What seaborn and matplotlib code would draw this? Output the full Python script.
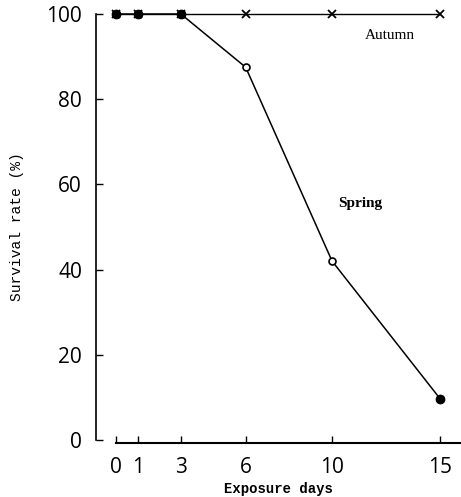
import matplotlib
matplotlib.use("Agg")
import matplotlib.pyplot as plt
import seaborn as sns
import pandas as pd

days = [0, 1, 3, 6, 10, 15]
spring = [100, 100, 100, 87.5, 42, 9.7]
autumn = [100, 100, 100, 100, 100, 100]
x_ticks = [0, 1, 3, 6, 10, 15]
y_ticks = [0, 20, 40, 60, 80, 100]

sns.set_theme(style="white")
plt.rcParams['font.family'] = ['Open Sans', 'DejaVu Sans']
plt.rcParams['text.color'] = 'black'
plt.rcParams['axes.labelcolor'] = 'black'
plt.rcParams['xtick.color'] = 'black'
plt.rcParams['ytick.color'] = 'black'

fig = plt.figure(figsize=(4.61, 4.97), dpi=100)
ax = fig.add_axes([96/461, 57/497, 365/461, 426/497])

df_a = pd.DataFrame({"days": days, "rate": autumn})
df_s = pd.DataFrame({"days": days, "rate": spring})

sns.lineplot(data=df_a, x="days", y="rate", ax=ax, color="black", lw=1.0,
             marker="x", markersize=6, markeredgecolor="black", markeredgewidth=1.3,
             clip_on=False)
sns.lineplot(data=df_s, x="days", y="rate", ax=ax, color="black", lw=1.1,
             marker="o", markersize=5, markerfacecolor="white",
             markeredgecolor="black", markeredgewidth=1.2, clip_on=False)
# filled dots where series coincide, and last point
filled_idx = [0, 1, 2, 5]
sns.scatterplot(x=[days[i] for i in filled_idx], y=[spring[i] for i in filled_idx],
                ax=ax, color="black", s=42, edgecolor="black", zorder=10, clip_on=False)

ax.set_xlim(-0.93, 15.97)
ax.set_ylim(0, 100)
ax.set_xticks(x_ticks)
ax.set_yticks(y_ticks)
ax.set_xticklabels([str(v) for v in x_ticks])
ax.set_yticklabels([str(v) for v in y_ticks])
ax.tick_params(axis="both", direction="in", length=5, width=1, color="black",
               labelsize=15, labelcolor="black", bottom=True, left=True)
ax.tick_params(axis="x", pad=10)
ax.tick_params(axis="y", pad=10)

for s in ["top", "right"]:
    ax.spines[s].set_visible(False)
ax.spines["left"].set_color("black")
ax.spines["bottom"].set_color("black")
ax.spines["left"].set_linewidth(1.2)
ax.spines["bottom"].set_linewidth(1.5)
ax.spines["bottom"].set_bounds(0, 15.97)
ax.spines["bottom"].set_position(("outward", 2))
ax.spines["left"].set_bounds(0, 100)
ax.grid(False)

ax.set_xlabel("Exposure days", family="Liberation Mono", fontsize=10, fontweight="bold",
              labelpad=3)
ax.set_ylabel("Survival rate (%)", family="Liberation Mono", fontsize=10.5, labelpad=16)

ax.text(12.7, 95, "Autumn", family="Liberation Serif", fontsize=11, ha="center", va="center")
ax.text(11.3, 55.5, "Spring", family="Liberation Serif", fontsize=11, fontweight="bold",
        ha="center", va="center")

fig.savefig("out.png", dpi=100)
